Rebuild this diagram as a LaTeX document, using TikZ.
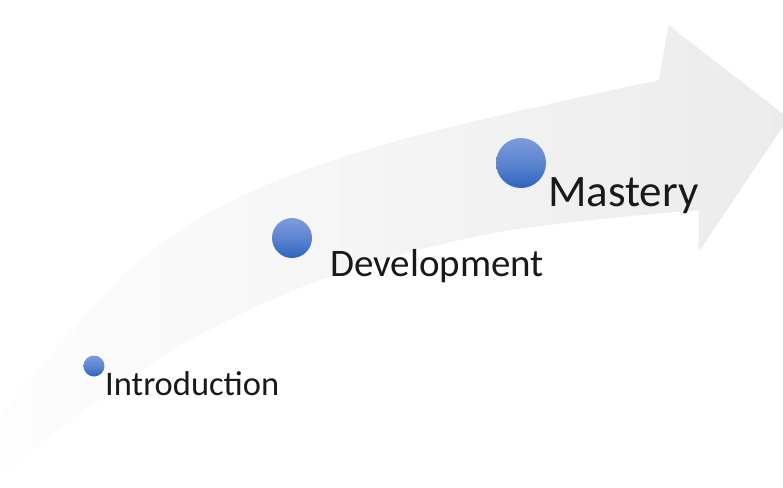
\documentclass[tikz,border=0pt]{standalone}
\usepackage{fontspec}
\setmainfont{Carlito}
\usetikzlibrary{fadings}
\tikzfading[name=fadeR, left color=transparent!92, right color=transparent!0]
\definecolor{dotlight}{RGB}{125,155,220}
\definecolor{dotdark}{RGB}{45,100,190}
\definecolor{labelgray}{RGB}{25,25,25}
\tikzset{
  dot/.style={circle, inner sep=0pt, minimum size=#1, top color=dotlight, bottom color=dotdark, middle color=dotlight!60!dotdark},
  stagelabel/.style={anchor=base west, inner sep=0pt, text=labelgray}
}
\begin{document}
\begin{tikzpicture}[x=1pt,y=-1pt]
\useasboundingbox (0,0) rectangle (783,487);
% faint background arrow
\fill[black!8, path fading=fadeR]
  plot[smooth, tension=0.6] coordinates {(-5,425) (60,345) (133,267) (233,200) (400,140) (660,80)}
  -- (670,25) -- (790,118) -- (700,252) -- (700,210)
  -- plot[smooth, tension=0.6] coordinates {(700,210) (500,232) (330,277) (200,335) (100,400) (-5,478)}
  -- cycle;
% dots
\node[dot=21pt] (d1) at (94,366) {};
\node[dot=40pt] (d2) at (292,238) {};
\node[dot=50pt] (d3) at (521,163) {};
% labels
\node[stagelabel, font=\fontsize{34.5}{40}\selectfont] (l1) at (105,395) {Introduction};
\node[stagelabel, font=\fontsize{39}{46}\selectfont] (l2) at (330,276) {Development};
\node[stagelabel, font=\fontsize{45}{52}\selectfont] (l3) at (548,206) {Mastery};
\end{tikzpicture}
\end{document}
